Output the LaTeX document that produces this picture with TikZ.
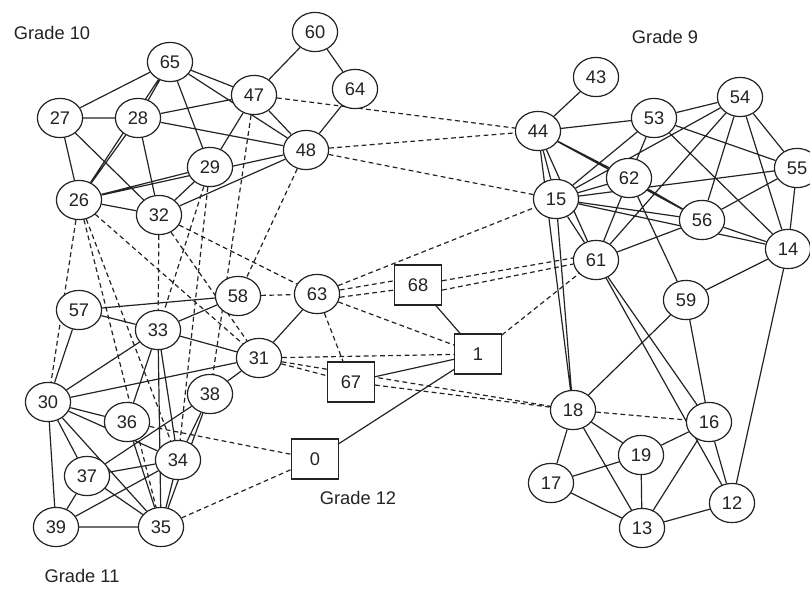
\documentclass[tikz,border=0pt]{standalone}
\usepackage{fontspec}
\setmainfont{Liberation Sans}
\usepackage{tikz}
\usetikzlibrary{shapes.geometric, backgrounds}
\definecolor{ink}{RGB}{35, 35, 35}

\begin{document}
\begin{tikzpicture}[
  x=0.025cm, y=-0.025cm,
  pupil/.style={ellipse, draw=ink, fill=white, line width=0.85pt,
    minimum width=1.13cm, minimum height=0.98cm, inner sep=0pt,
    font=\fontsize{13}{15}\selectfont, text=ink},
  staff/.style={rectangle, draw=ink, fill=white, line width=0.85pt,
    minimum width=1.17cm, minimum height=1.0cm, inner sep=0pt,
    font=\fontsize{13}{15}\selectfont, text=ink},
  tie/.style={draw=ink, line width=0.85pt},
  crosstie/.style={tie, dash pattern=on 3.4pt off 2.4pt},
  grade/.style={font=\fontsize{13}{15}\selectfont, text=ink}
]
  \useasboundingbox (0,0) rectangle (810,588);

  % --- Grade 10 ---
  \node[pupil] (p60) at (315,32)  {60};
  \node[pupil] (p65) at (170,62)  {65};
  \node[pupil] (p47) at (254,95)  {47};
  \node[pupil] (p64) at (355,89)  {64};
  \node[pupil] (p27) at (60,118)  {27};
  \node[pupil] (p28) at (138,118) {28};
  \node[pupil] (p48) at (306,150) {48};
  \node[pupil] (p29) at (210,167) {29};
  \node[pupil] (p26) at (79,200)  {26};
  \node[pupil] (p32) at (159,215) {32};
  \node[grade] (g10) at (52,33) {Grade 10};

  % --- Grade 11 ---
  \node[pupil] (p57) at (79,310)  {57};
  \node[pupil] (p33) at (158,330) {33};
  \node[pupil] (p58) at (238,296) {58};
  \node[pupil] (p31) at (259,358) {31};
  \node[pupil] (p30) at (48,402)  {30};
  \node[pupil] (p36) at (127,422) {36};
  \node[pupil] (p38) at (210,394) {38};
  \node[pupil] (p34) at (178,460) {34};
  \node[pupil] (p37) at (87,476)  {37};
  \node[pupil] (p39) at (56,527)  {39};
  \node[pupil] (p35) at (161,527) {35};
  \node[grade] (g11) at (82,576) {Grade 11};

  % --- Grade 12 ---
  \node[pupil] (p63) at (317,294) {63};
  \node[staff] (p68) at (418,285) {68};
  \node[staff] (p1)  at (478,354) {1};
  \node[staff] (p67) at (351,382) {67};
  \node[staff] (p0)  at (315,459) {0};
  \node[grade] (g12) at (358,498) {Grade 12};

  % --- Grade 9 ---
  \node[pupil] (p43) at (596,77)  {43};
  \node[pupil] (p44) at (538,131) {44};
  \node[pupil] (p53) at (654,118) {53};
  \node[pupil] (p54) at (740,97)  {54};
  \node[pupil] (p62) at (629,178) {62};
  \node[pupil] (p55) at (797,168) {55};
  \node[pupil] (p15) at (556,199) {15};
  \node[pupil] (p56) at (702,220) {56};
  \node[pupil] (p14) at (788,249) {14};
  \node[pupil] (p61) at (596,260) {61};
  \node[pupil] (p59) at (686,300) {59};
  \node[pupil] (p18) at (573,410) {18};
  \node[pupil] (p16) at (709,422) {16};
  \node[pupil] (p19) at (641,455) {19};
  \node[pupil] (p17) at (551,483) {17};
  \node[pupil] (p12) at (732,503) {12};
  \node[pupil] (p13) at (642,528) {13};
  \node[grade] (g9) at (665,37) {Grade 9};

  \begin{scope}[on background layer]
    % ties inside grade 10
    \draw[tie] (p65) -- (p27) (p65) -- (p28) (p65) -- (p26) (p28) -- (p26)
      (p27) -- (p28) (p27) -- (p26) (p27) -- (p32) (p28) -- (p32)
      (p28) -- (p47) (p28) -- (p48) (p65) -- (p47) (p65) -- (p48)
      (p65) -- (p29) (p47) -- (p60) (p47) -- (p48) (p47) -- (p29)
      (p60) -- (p64) (p64) -- (p48) (p26) -- (p29) (p26) -- (p48)
      (p26) -- (p32) (p32) -- (p29) (p32) -- (p48);
    % ties inside grade 11
    \draw[tie] (p57) -- (p58) (p57) -- (p33) (p57) -- (p30) (p33) -- (p58)
      (p33) -- (p31) (p30) -- (p31) (p30) -- (p33) (p30) -- (p36)
      (p30) -- (p34) (p30) -- (p37) (p30) -- (p39) (p30) -- (p35)
      (p36) -- (p33) (p36) -- (p35) (p38) -- (p31) (p38) -- (p34)
      (p38) -- (p35) (p38) -- (p37) (p33) -- (p34) (p33) -- (p35)
      (p37) -- (p34) (p39) -- (p34) (p39) -- (p37) (p39) -- (p35)
      (p37) -- (p35) (p34) -- (p35);
    % ties of grade 12
    \draw[tie] (p63) -- (p31) (p68) -- (p1) (p67) -- (p1) (p1) -- (p0);
    % ties inside grade 9
    \draw[tie] (p43) -- (p44) (p44) -- (p53) (p44) -- (p15) (p44) -- (p62)
      (p44) -- (p56) (p44) -- (p61) (p44) -- (p18) (p53) -- (p54)
      (p53) -- (p62) (p53) -- (p15) (p53) -- (p55) (p53) -- (p14)
      (p54) -- (p15) (p54) -- (p61) (p54) -- (p56) (p54) -- (p14)
      (p54) -- (p55) (p55) -- (p14) (p15) -- (p62) (p15) -- (p55)
      (p15) -- (p56) (p15) -- (p14) (p15) -- (p61) (p15) -- (p18)
      (p62) -- (p56) (p62) -- (p61) (p62) -- (p59) (p61) -- (p56)
      (p61) -- (p12) (p61) -- (p16) (p59) -- (p18) (p59) -- (p16)
      (p59) -- (p14) (p56) -- (p55) (p56) -- (p14) (p14) -- (p12)
      (p18) -- (p19) (p18) -- (p17) (p18) -- (p13) (p19) -- (p17)
      (p19) -- (p13) (p19) -- (p16) (p16) -- (p13) (p16) -- (p12)
      (p13) -- (p12) (p13) -- (p17);
    % ties across grades
    \draw[crosstie] (p47) -- (p44) (p48) -- (p44) (p48) -- (p15)
      (p47) -- (p38) (p48) -- (p58) (p26) -- (p30) (p26) -- (p34)
      (p26) -- (p35) (p26) -- (p31) (p32) -- (p33) (p32) -- (p31)
      (p32) -- (p63) (p29) -- (p33) (p29) -- (p34) (p36) -- (p0)
      (p35) -- (p0) (p58) -- (p63) (p63) -- (p15)
      (p63.10) -- (p68.170) (p63.352) -- (p68.192)
      (p68.10) -- (p61.175) (p68.348) -- (p61.190)
      (p63) -- (p1) (p63) -- (p67) (p31) -- (p1) (p31) -- (p67)
      (p31) -- (p18) (p67) -- (p18) (p1) -- (p61) (p18) -- (p16);
  \end{scope}
\end{tikzpicture}
\end{document}
